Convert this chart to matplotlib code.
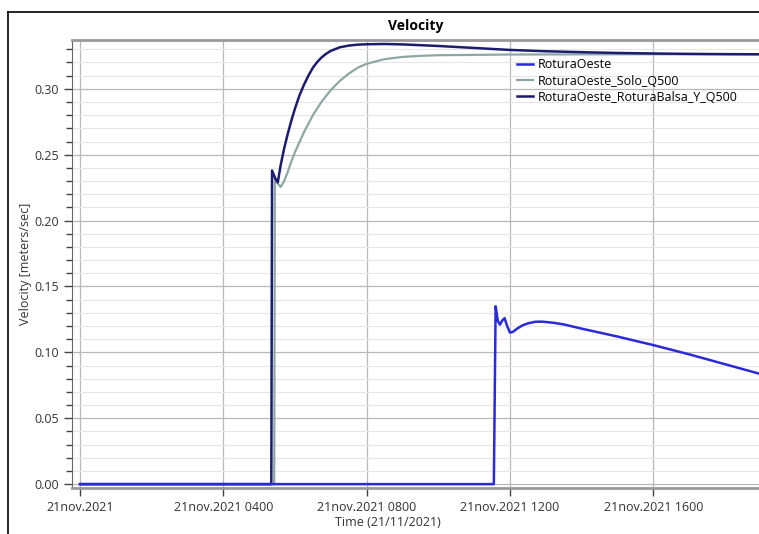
#!/usr/bin/env python3

import numpy as np
import matplotlib
matplotlib.use('Agg')
from matplotlib import pyplot as plt
from matplotlib.lines import Line2D
from matplotlib.ticker import FixedLocator, MultipleLocator

# hours since 21nov.2021 0000
t_oeste = [0.0, 11.55, 11.6, 11.66, 11.72, 11.78, 11.85, 11.92, 12.0, 12.08, 12.2, 12.35,
           12.5, 12.7, 12.9, 13.2, 13.5, 14.0, 15.0, 16.0, 17.0, 18.0, 19.0]
v_oeste = [0.0, 0.0, 0.135, 0.124, 0.121, 0.124, 0.126, 0.12, 0.115, 0.1155, 0.118, 0.1205,
           0.122, 0.1232, 0.1233, 0.1225, 0.1212, 0.118, 0.112, 0.1055, 0.0985, 0.091, 0.0835]

t_solo = [0.0, 5.42, 5.44, 5.52, 5.6, 5.7, 5.8, 5.9, 6.0, 6.25, 6.5, 6.75, 7.0, 7.25,
          7.5, 7.75, 8.0, 8.5, 9.0, 9.5, 10.0, 12.0, 15.0, 19.0]
v_solo = [0.0, 0.0, 0.232, 0.228, 0.2255, 0.23, 0.237, 0.245, 0.252, 0.267, 0.28, 0.2905,
          0.299, 0.306, 0.3115, 0.316, 0.319, 0.3225, 0.3242, 0.325, 0.3255, 0.326, 0.3262,
          0.3262]

t_balsa = [0.0, 5.34, 5.36, 5.45, 5.52, 5.6, 5.7, 5.8, 5.9, 6.0, 6.125, 6.25, 6.375, 6.5,
           6.625, 6.75, 6.875, 7.0, 7.25, 7.5, 7.75, 8.0, 8.5, 9.0, 10.0, 11.0, 12.0, 13.0,
           14.0, 15.0, 16.0, 17.0, 18.0, 19.0]
v_balsa = [0.0, 0.0, 0.238, 0.232, 0.229, 0.242, 0.255, 0.266, 0.276, 0.285, 0.295, 0.303,
           0.31, 0.316, 0.3205, 0.324, 0.3267, 0.3288, 0.3315, 0.3328, 0.3335, 0.3338, 0.334,
           0.3337, 0.3325, 0.331, 0.3295, 0.3285, 0.3278, 0.3272, 0.3268, 0.3265, 0.3263,
           0.3262]

xticks = [0, 4, 8, 12, 16]
xticklabels = ['21nov.2021', '21nov.2021 0400', '21nov.2021 0800', '21nov.2021 1200',
               '21nov.2021 1600']

plt.rcParams['font.family'] = ['Open Sans', 'DejaVu Sans']

fig = plt.figure(figsize=(7.59, 5.34), dpi=100)
ax = fig.add_axes([0.095, 0.086, 0.905, 0.839])

ax.plot(t_solo, v_solo, color='#8fa6a6', lw=1.6, label='RoturaOeste_Solo_Q500', zorder=3)
ax.plot(t_balsa, v_balsa, color='#1c1c6e', lw=1.8, label='RoturaOeste_RoturaBalsa_Y_Q500', zorder=4)
ax.plot(t_oeste, v_oeste, color='#2a2ad8', lw=1.8, label='RoturaOeste', zorder=5)

ax.set_xlim(-0.22, 18.95)
ax.set_ylim(-0.003, 0.337)

ax.xaxis.set_major_locator(FixedLocator(xticks))
ax.set_xticklabels(xticklabels, fontsize=9, color='#333333')
ax.yaxis.set_major_locator(MultipleLocator(0.05))
ax.yaxis.set_minor_locator(MultipleLocator(0.01))
ax.yaxis.set_major_formatter(plt.FormatStrFormatter('%.2f'))
ax.tick_params(axis='y', labelsize=9, labelcolor='#333333')
ax.tick_params(which='major', direction='out', length=6, width=1, color='#444444')
ax.tick_params(which='minor', direction='out', length=4, width=1, color='#444444')

ax.grid(which='major', axis='both', color='#b8b8b8', lw=0.9)
ax.grid(which='minor', axis='y', color='#e6e6e6', lw=0.8)
ax.set_axisbelow(True)

for side in ['top', 'bottom']:
    ax.spines[side].set_color('#999999')
    ax.spines[side].set_linewidth(2)
ax.spines['left'].set_color('#666666')
ax.spines['right'].set_visible(False)

ax.set_title('Velocity', fontsize=10, fontweight='bold', pad=7)
ax.set_xlabel('Time (21/11/2021)', fontsize=9, color='#333333', labelpad=0)
ax.xaxis.set_label_coords(0.46, -0.062)
ax.set_ylabel('Velocity [meters/sec]', fontsize=9, color='#333333')
ax.yaxis.set_label_coords(-0.058, 0.5)

handles, labels = ax.get_legend_handles_labels()
order = [2, 0, 1]
ax.legend([handles[i] for i in order], [labels[i] for i in order], loc='upper left',
          bbox_to_anchor=(0.64, 0.97), frameon=False, fontsize=9, handlelength=1.3,
          handletextpad=0.4, labelspacing=0.25, borderaxespad=0)

# outer frame lines
fig.add_artist(Line2D([8 / 759, 8 / 759], [0, 1 - 12 / 534], color='black', lw=1.2))
fig.add_artist(Line2D([8 / 759, 1], [1 - 12 / 534, 1 - 12 / 534], color='black', lw=1.2))

fig.savefig('out.png', dpi=100)
